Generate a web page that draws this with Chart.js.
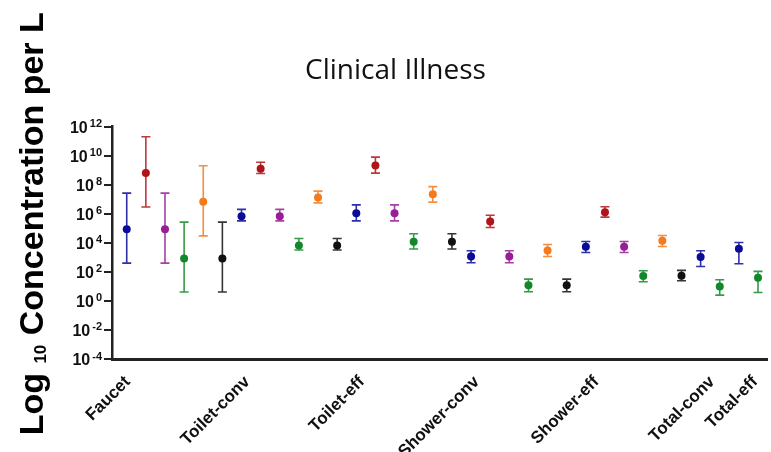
<!DOCTYPE html>
<html>
<head>
<meta charset="utf-8">
<script src="https://cdn.jsdelivr.net/npm/chart.js@4.4.1/dist/chart.umd.min.js"></script>
<style>
  body { margin: 0; background: #fff; }
  #wrap { width: 771px; height: 452px; }
</style>
</head>
<body>
<div id="wrap"><canvas id="illnessChart"></canvas></div>
<script>
// Groups along the x axis (tick labels) and where each label sits, in point slots
const groups = ["Faucet", "Toilet-conv", "Toilet-eff", "Shower-conv", "Shower-eff", "Total-conv", "Total-eff"];
const labelSlots = [0.05, 6.3, 12.3, 18.3, 24.55, 30.6, 32.85];

// log10 concentration per L: centre, lower and upper end of the bar, one entry per group
const seriesA = [4.94, 5.83, 6.04, 3.06, 3.73, 3.02, 3.59];
const seriesALow = [2.6, 5.51, 5.51, 2.63, 3.33, 2.37, 2.56];
const seriesAHigh = [7.42, 6.3, 6.61, 3.45, 4.09, 3.45, 4.02];

const seriesB = [8.8, 9.09, 9.32, 5.47, 6.11, null, null];
const seriesBLow = [6.46, 8.77, 8.8, 5.05, 5.77, null, null];
const seriesBHigh = [11.3, 9.55, 9.9, 5.9, 6.48, null, null];

const seriesC = [4.94, 5.83, 6.04, 3.06, 3.73, null, null];
const seriesCLow = [2.6, 5.51, 5.51, 2.63, 3.33, null, null];
const seriesCHigh = [7.42, 6.3, 6.61, 3.45, 4.09, null, null];

const seriesD = [2.92, 3.82, 4.07, 1.07, 1.71, 1.0, 1.6];
const seriesDLow = [0.61, 3.5, 3.57, 0.63, 1.32, 0.4, 0.58];
const seriesDHigh = [5.42, 4.3, 4.62, 1.5, 2.08, 1.46, 2.03];

const seriesE = [6.82, 7.12, 7.35, 3.47, 4.14, null, null];
const seriesELow = [4.48, 6.75, 6.8, 3.06, 3.75, null, null];
const seriesEHigh = [9.3, 7.56, 7.87, 3.88, 4.5, null, null];

const seriesF = [2.92, 3.82, 4.07, 1.07, 1.73, null, null];
const seriesFLow = [0.61, 3.5, 3.57, 0.63, 1.39, null, null];
const seriesFHigh = [5.42, 4.3, 4.62, 1.5, 2.1, null, null];

// y axis tick exponents (10^n)
const yTickExponents = [-4, -2, 0, 2, 4, 6, 8, 10, 12];

// colours for the six series
const colours = ["#0b0b9a", "#b01418", "#961e96", "#12882a", "#f47a1e", "#111111"];

const allSeries = [
    [seriesA, seriesALow, seriesAHigh],
    [seriesB, seriesBLow, seriesBHigh],
    [seriesC, seriesCLow, seriesCHigh],
    [seriesD, seriesDLow, seriesDHigh],
    [seriesE, seriesELow, seriesEHigh],
    [seriesF, seriesFLow, seriesFHigh]
];

// every point gets its own slot on x, in series order inside each group
let slot = 0;
let points = allSeries.map(() => []);
groups.forEach((g, gi) => {
    allSeries.forEach((s, si) => {
        if (s[0][gi] === null) return;
        points[si].push({ x: slot, y: Math.pow(10, s[0][gi]), lo: Math.pow(10, s[1][gi]), hi: Math.pow(10, s[2][gi]) });
        slot++;
    });
});

// error bars, drawn behind the dots
const errorBars = {
    id: "errorBars",
    beforeDatasetsDraw(chart) {
        const ctx = chart.ctx;
        const xs = chart.scales.x, ys = chart.scales.y;
        ctx.save();
        ctx.globalAlpha = 0.85;
        chart.data.datasets.forEach(ds => {
            ctx.strokeStyle = ds.backgroundColor;
            ctx.lineWidth = 1.6;
            ds.data.forEach(p => {
                const px = xs.getPixelForValue(p.x);
                const top = ys.getPixelForValue(p.hi);
                const bot = ys.getPixelForValue(p.lo);
                ctx.beginPath();
                ctx.moveTo(px, top); ctx.lineTo(px, bot);
                ctx.moveTo(px - 4.5, top); ctx.lineTo(px + 4.5, top);
                ctx.moveTo(px - 4.5, bot); ctx.lineTo(px + 4.5, bot);
                ctx.stroke();
            });
        });
        ctx.restore();
    }
};

// y tick labels as 10 with a raised exponent, and the y title with a subscript "10"
const axisText = {
    id: "axisText",
    afterDraw(chart) {
        const ctx = chart.ctx;
        const area = chart.chartArea;
        const ys = chart.scales.y;
        ctx.save();
        ctx.fillStyle = "#111";
        ctx.textBaseline = "alphabetic";
        ctx.textAlign = "left";
        ys.ticks.forEach(t => {
            const y = ys.getPixelForValue(t.value);
            const exp = String(Math.round(Math.log10(t.value)));
            ctx.font = "bold 11px 'Liberation Sans'";
            const ew = ctx.measureText(exp).width;
            const right = area.left - 10;
            ctx.fillText(exp, right - ew, y + 0.5);
            ctx.font = "bold 16px 'Liberation Sans'";
            const bw = ctx.measureText("10").width;
            ctx.fillText("10", right - ew - 2 - bw, y + 6);
        });

        const parts = [
            ["Log ", "bold 34px 'Liberation Sans'", 0],
            ["10", "bold 17px 'Liberation Sans'", 3],
            [" Concentration per L", "bold 34px 'Liberation Sans'", 0]
        ];
        let total = 0;
        parts.forEach(p => { ctx.font = p[1]; total += ctx.measureText(p[0]).width; });
        ctx.translate(43, (area.top + area.bottom) / 2 - 19 + total / 2);
        ctx.rotate(-Math.PI / 2);
        ctx.fillStyle = "#000";
        let x = 0;
        parts.forEach(p => {
            ctx.font = p[1];
            ctx.fillText(p[0], x, p[2]);
            x += ctx.measureText(p[0]).width;
        });
        ctx.restore();
    }
};

new Chart(document.getElementById("illnessChart"), {
    type: "scatter",
    data: {
        datasets: points.map((d, i) => ({
            data: d,
            backgroundColor: colours[i],
            borderWidth: 0,
            pointRadius: 4,
            pointHoverRadius: 4
        }))
    },
    options: {
        responsive: true,
        maintainAspectRatio: false,
        animation: false,
        layout: { padding: { left: 20, right: 0, top: 0, bottom: 0 } },
        plugins: {
            legend: { display: false },
            tooltip: { enabled: false },
            title: {
                display: true,
                text: "Clinical Illness",
                color: "#111",
                font: { family: "'Open Sans'", size: 28, weight: "normal" },
                padding: { top: 54, bottom: 39 }
            }
        },
        scales: {
            x: {
                type: "linear",
                min: -0.77,
                max: 33.47,
                grid: { display: false },
                border: { display: true, color: "#222", width: 3 },
                afterBuildTicks: scale => {
                    scale.ticks = labelSlots.map(v => ({ value: v }));
                },
                afterFit: scale => {
                    scale.height = 93;
                    scale.paddingLeft = 0;
                    scale.paddingRight = 0;
                },
                ticks: {
                    autoSkip: false,
                    minRotation: 45,
                    maxRotation: 45,
                    padding: 5,
                    color: "#111",
                    font: { family: "'Liberation Sans'", size: 17, weight: "bold" },
                    callback: (value, index) => groups[index]
                }
            },
            y: {
                type: "logarithmic",
                min: 1e-4,
                max: 1e12,
                grid: { drawOnChartArea: false, drawTicks: true, tickLength: 8, color: "#222", lineWidth: 2 },
                border: { display: true, color: "#222", width: 2.5 },
                afterBuildTicks: scale => {
                    scale.ticks = yTickExponents.map(n => ({ value: Math.pow(10, n) }));
                },
                afterFit: scale => { scale.width = 92; },
                ticks: { display: false }
            }
        }
    },
    plugins: [errorBars, axisText]
});
</script>
</body>
</html>
